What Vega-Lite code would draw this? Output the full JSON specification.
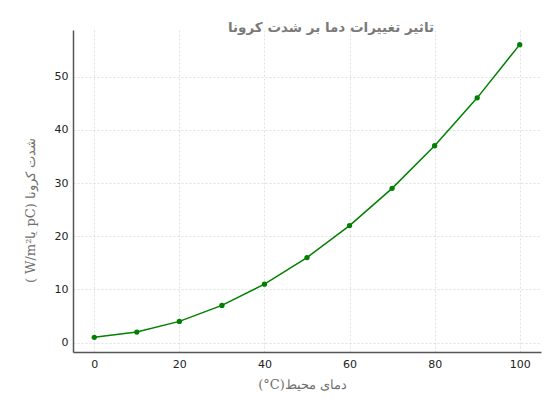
{
  "$schema": "https://vega.github.io/schema/vega-lite/v6.json",
  "width": 468,
  "height": 322,
  "autosize": {"type": "none"},
  "padding": {"left": 73, "top": 30, "right": 19, "bottom": 47},
  "background": "white",
  "title": {
    "text": "تاثیر تغییرات دما بر شدت کرونا",
    "font": "DejaVu Sans",
    "fontSize": 13.5,
    "fontWeight": "bold",
    "color": "#7a7a7a",
    "anchor": "middle",
    "dx": 24,
    "offset": -4
  },
  "data": {
    "values": [
      {"t": 0, "c": 1},
      {"t": 10, "c": 2},
      {"t": 20, "c": 4},
      {"t": 30, "c": 7},
      {"t": 40, "c": 11},
      {"t": 50, "c": 16},
      {"t": 60, "c": 22},
      {"t": 70, "c": 29},
      {"t": 80, "c": 37},
      {"t": 90, "c": 46},
      {"t": 100, "c": 56}
    ]
  },
  "config": {
    "view": {"stroke": null},
    "axis": {
      "labelFont": "DejaVu Sans",
      "labelFontSize": 11,
      "labelColor": "#222222",
      "domainColor": "#555555",
      "domainWidth": 1.5,
      "ticks": false,
      "grid": true,
      "gridColor": "#cccccc",
      "gridDash": [2, 2],
      "gridWidth": 0.6,
      "titleFont": "DejaVu Serif",
      "titleFontSize": 13,
      "titleFontWeight": "normal",
      "titleColor": "#707070"
    }
  },
  "layer": [
    {
      "mark": {"type": "line", "color": "#008000", "strokeWidth": 1.5, "clip": true},
      "encoding": {
        "x": {
          "field": "t", "type": "quantitative",
          "scale": {"domain": [-5, 105], "nice": false, "zero": false},
          "axis": {
            "values": [0, 20, 40, 60, 80, 100],
            "labelPadding": 6,
            "title": "(°C)دمای محیط",
            "titleX": 229,
            "titleY": 32,
            "titleBaseline": "middle",
            "titleAlign": "center"
          }
        },
        "y": {
          "field": "c", "type": "quantitative",
          "scale": {"domain": [-1.75, 58.75], "nice": false, "zero": false},
          "axis": {
            "values": [0, 10, 20, 30, 40, 50],
            "labelPadding": 5,
            "title": "( W/m²یا pC) شدت کرونا",
            "titleAngle": -90,
            "titleX": -43,
            "titleY": 180,
            "titleAlign": "center",
            "titleBaseline": "middle"
          }
        }
      }
    },
    {
      "mark": {"type": "point", "filled": true, "color": "#008000", "size": 28, "opacity": 1},
      "encoding": {
        "x": {"field": "t", "type": "quantitative"},
        "y": {"field": "c", "type": "quantitative"}
      }
    }
  ]
}
